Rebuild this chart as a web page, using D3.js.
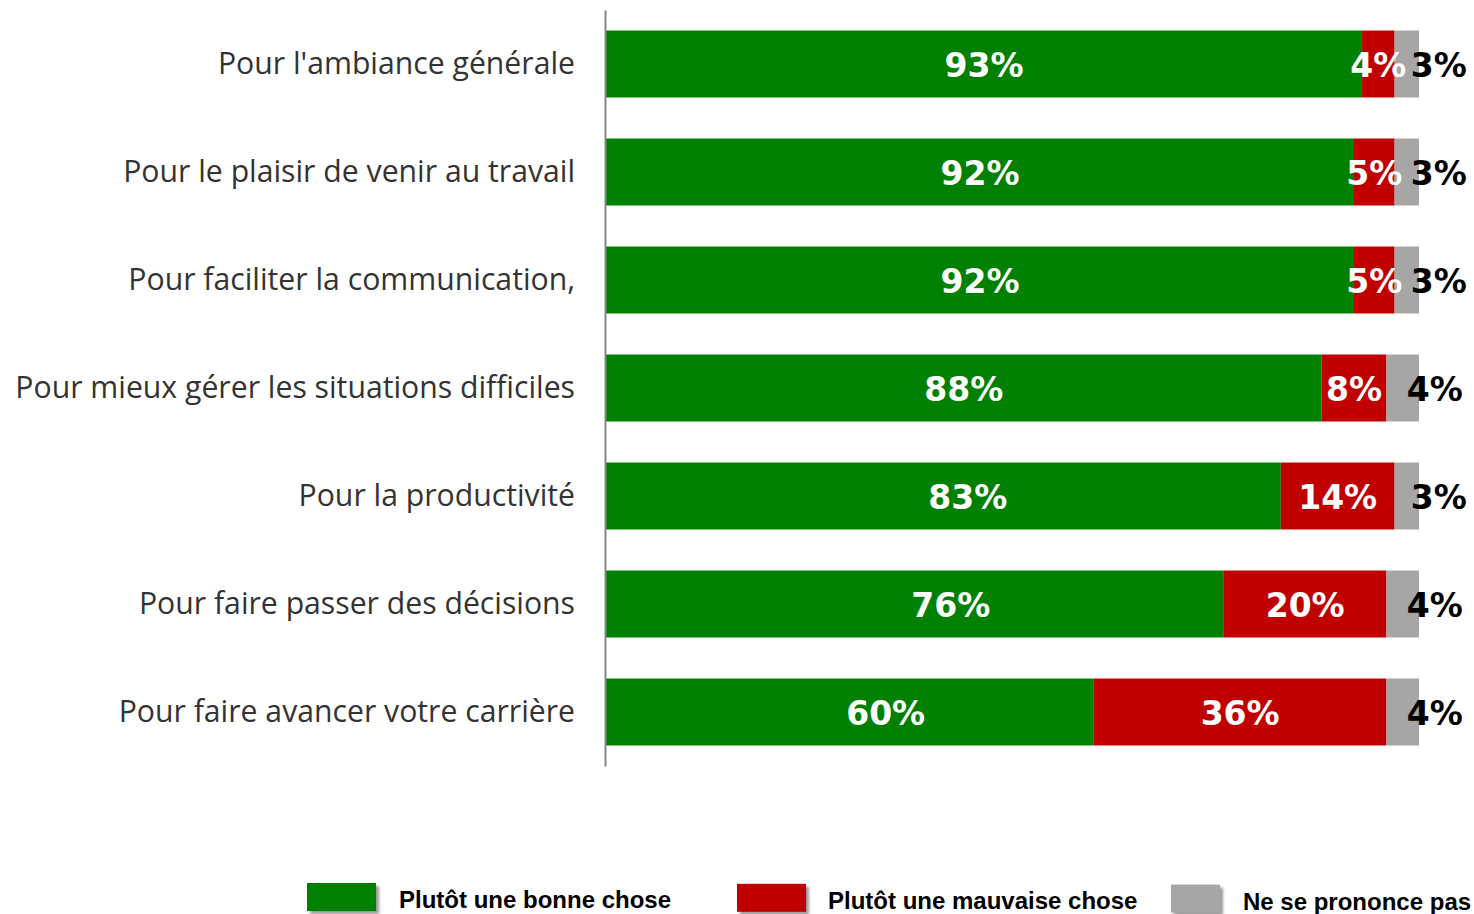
<!DOCTYPE html>
<html><head><meta charset="utf-8">
<script src="https://cdn.jsdelivr.net/npm/d3@7"></script>
<style>body{margin:0;background:#fff}</style>
</head><body>
<script>
const categories = ["Pour l'ambiance générale","Pour le plaisir de venir au travail","Pour faciliter la communication,","Pour mieux gérer les situations difficiles","Pour la productivité","Pour faire passer des décisions","Pour faire avancer votre carrière"];
const bonne = [93,92,92,88,83,76,60];
const mauvaise = [4,5,5,8,14,20,36];
const nsp = [3,3,3,4,3,4,4];
const seriesNames = ["Plutôt une bonne chose","Plutôt une mauvaise chose","Ne se prononce pas"];
const colors = ["#008000","#C00000","#A6A6A6"];
// manual nudges of the green value labels (in % units), as placed in the original
const greenLabelNudge = [0,0,0,0,3,4.4,4.4];

const W=1474,H=914;
const svg=d3.select("body").append("svg").attr("width",W).attr("height",H);
const defs=svg.append("defs");
const f=defs.append("filter").attr("id","sh").attr("x","-20%").attr("y","-20%").attr("width","150%").attr("height","150%");
f.append("feGaussianBlur").attr("stdDeviation",1.5);

const x=d3.scaleLinear().domain([0,100]).range([606,1419]);
const y=d3.scaleBand().domain(categories).range([10,766]).paddingInner(0.38).paddingOuter(0.19);

const stackData=categories.map((c,i)=>({cat:c,idx:i,s0:bonne[i],s1:mauvaise[i],s2:nsp[i]}));
const stack=d3.stack().keys(["s0","s1","s2"])(stackData);

stack.forEach((layer,k)=>{
  const g=svg.append("g");
  g.selectAll("rect").data(layer).join("rect")
    .attr("x",d=>x(d[0])).attr("width",d=>x(d[1])-x(d[0]))
    .attr("y",d=>y(d.data.cat)).attr("height",y.bandwidth())
    .attr("fill",colors[k]);
});
stack.forEach((layer,k)=>{
  const g=svg.append("g");
  g.selectAll("text").data(layer).join("text")
    .attr("x",d=> k===0 ? x((d[0]+d[1])/2 + greenLabelNudge[d.data.idx]) : k===1 ? x((d[0]+d[1])/2) : x((d[0]+d[1])/2)+4)
    .attr("y",d=>y(d.data.cat)+y.bandwidth()/2+1)
    .attr("text-anchor",k<2?"middle":"start")
    .attr("dominant-baseline","central")
    .attr("font-family","DejaVu Sans").attr("font-weight","bold").attr("font-size",33)
    .attr("fill",k<2?"#fff":"#000")
    .text(d=>(d[1]-d[0])+"%");
});

// axis
const ax=svg.append("g").attr("transform","translate(605,0)").call(d3.axisLeft(y).tickSize(0).tickPadding(30));
ax.select(".domain").attr("stroke","#868686").attr("stroke-width",2);
ax.selectAll("text").attr("font-family","'Open Sans'").attr("font-size",30.2).attr("fill","#333").attr("dy","0.32em");

// legend
const legX=[307,737,1171], legTx=[399,828,1243], legW=[69,69,49];
seriesNames.forEach((n,i)=>{
  const g=svg.append("g");
  g.append("rect").attr("x",legX[i]+3).attr("y",886+i*0.8).attr("width",legW[i]).attr("height",28).attr("fill","#999").attr("filter","url(#sh)");
  g.append("rect").attr("x",legX[i]).attr("y",883+i*0.8).attr("width",legW[i]).attr("height",28).attr("fill",colors[i]);
  g.append("text").attr("x",legTx[i]).attr("y",908+i*0.8).attr("font-family","'Liberation Sans',Arial").attr("font-weight","bold").attr("font-size",24).attr("fill","#000").text(n);
});
</script>
</body></html>
